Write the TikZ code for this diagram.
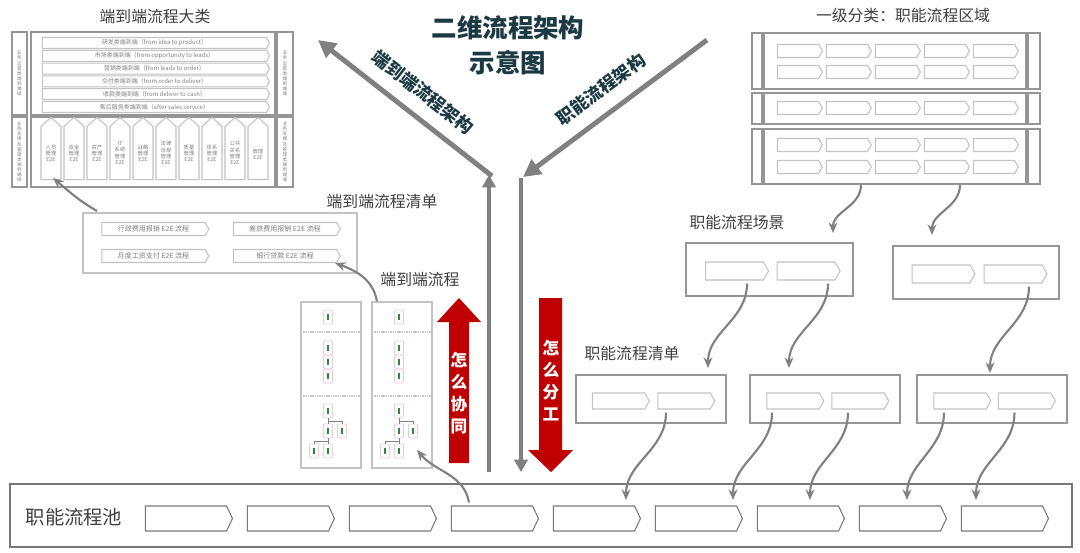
\documentclass[tikz,border=0pt]{standalone}
\usepackage{fontspec}
\setmainfont{Noto Sans CJK SC}
\usetikzlibrary{arrows.meta,shapes.symbols,positioning}
\definecolor{titleteal}{RGB}{28,58,68}
\definecolor{darkred}{RGB}{192,0,0}
\definecolor{txtgray}{RGB}{64,64,64}
\definecolor{boxgray}{RGB}{150,150,150}
\definecolor{chevgray}{RGB}{195,195,195}
\definecolor{poolgray}{RGB}{120,120,120}
\definecolor{arrowgray}{RGB}{128,128,128}
\definecolor{pinkline}{RGB}{240,200,212}
\definecolor{greenmark}{RGB}{40,140,60}

\begin{document}
\begin{tikzpicture}[x=0.02cm, y=-0.02cm,
    chev/.style={signal, signal to=east, signal pointer angle=120, draw=chevgray, line width=0.6pt, inner sep=0pt},
    house/.style={signal, signal to=north, signal pointer angle=96, draw=chevgray, line width=0.6pt, inner sep=0pt,
      minimum width=0.4cm, minimum height=1.16cm, align=center, text=gray, font=\fontsize{3}{3.5}\selectfont},
    boxframe/.style={draw=boxgray, line width=0.8pt, inner sep=0pt},
    sidetext/.style={align=center, text=gray, font=\fontsize{2.6}{2.9}\selectfont},
    lbltext/.style={text=txtgray, font=\fontsize{9}{10}\selectfont},
    wave/.style={draw=arrowgray, line width=1.2pt, -{Stealth[length=6pt,width=5pt]}},
    bigarrow/.style={draw=arrowgray, line width=2.8pt},
    mini/.style={draw=pinkline, line width=0.4pt, rounded corners=0.6pt, inner sep=0pt,
      minimum width=0.18cm, minimum height=0.28cm, text=greenmark, font=\fontsize{3}{3}\selectfont}]

  \fill[white] (0,0) rectangle (1080,552);
  \useasboundingbox (0,0) rectangle (1080,552);

  % title
  \node[align=center, text=titleteal, font=\fontsize{14.5}{20}\selectfont\bfseries] (title) at (508,45) {二维流程架构\\示意图};

  % end-to-end categories (top left)
  \node[lbltext] (e2ecat) at (155,17) {端到端流程大类};
  \begin{scope}[every node/.style={boxframe}]
    \node[minimum width=0.3cm, minimum height=1.66cm] (opL) at (19.5,73.5) {};
    \node[minimum width=4.88cm, minimum height=1.66cm] (opbox) at (153,73.5) {};
    \node[minimum width=0.32cm, minimum height=1.66cm] (opR) at (285,73.5) {};
    \node[minimum width=0.3cm, minimum height=1.4cm] (supL) at (19.5,152) {};
    \node[minimum width=4.88cm, minimum height=1.4cm] (supbox) at (153,152) {};
    \node[minimum width=0.32cm, minimum height=1.4cm] (supR) at (285,152) {};
  \end{scope}
  \foreach \side in {opL,opR}
    \node[sidetext] at (\side) {业\\务\\运\\营\\类\\端\\到\\端\\域};
  \foreach \side in {supL,supR}
    \node[sidetext] at (\side) {业\\务\\支\\撑\\及\\管\\理\\类\\端\\到\\端\\域};
  \foreach \txt [count=\i] in {研发类端到端（from idea to product）,市场类端到端（from opportunity to leads）,
      营销类端到端（from leads to order）,交付类端到端（from order to deliver）,
      收款类端到端（from deliver to cash）,售后服务类端到端（after sales service）}
    \node[chev, minimum width=4.54cm, minimum height=0.22cm, signal pointer angle=125,
      text=gray, font=\fontsize{3.4}{4}\selectfont] (row\i) at (154.5,{43+12.8*(\i-1)}) {\txt};
  \foreach \txt [count=\i] in {人员\\管理\\E2E,资金\\管理\\E2E,资产\\管理\\E2E,IT\\系统\\管理\\E2E,战略\\管理\\E2E,
      法律\\合规\\管理\\E2E,质量\\管理\\E2E,体系\\管理\\E2E,公共\\关系\\管理\\E2E,……\\管理\\E2E}
    \node[house] (e2e\i) at ({51+23*(\i-1)},153) {\txt};

  % end-to-end list
  \node[lbltext] (e2elistlbl) at (382,202) {端到端流程清单};
  \node[draw=chevgray, line width=0.8pt, minimum width=5.48cm, minimum height=1.2cm] (e2elist) at (220,243) {};
  \begin{scope}[every node/.style={chev, minimum width=2.14cm, minimum height=0.26cm, text=gray, font=\fontsize{4}{5}\selectfont}]
    \node (li1) at (153.5,229) {行政费用报销 E2E 流程};
    \node (li2) at (285,229) {差旅费用报销 E2E 流程};
    \node (li3) at (153.5,256) {月度工资支付 E2E 流程};
    \node (li4) at (285,256) {银行贷款 E2E 流程};
  \end{scope}

  % end-to-end flows
  \node[lbltext] (e2eflowlbl) at (420,280) {端到端流程};
  \node[draw=chevgray, line width=0.8pt, minimum width=1.2cm, minimum height=3.32cm] (col1) at (331,385) {};
  \node[draw=chevgray, line width=0.8pt, minimum width=1.2cm, minimum height=3.32cm] (col2) at (402,385) {};
  \foreach \cx/\cn in {0/a,71/b} {
    \draw[gray!45, line width=1.6pt, dash pattern=on 0.8pt off 0.5pt] ({301+\cx},332) -- ({361+\cx},332);
    \draw[gray!45, line width=1.6pt, dash pattern=on 0.8pt off 0.5pt] ({301+\cx},396) -- ({361+\cx},396);
    \begin{scope}[every node/.style={mini}]
      \node (s1\cn) at ({328+\cx},317) {\rule{0.8pt}{3pt}\hspace{1.5pt}};
      \node (s2\cn) at ({328+\cx},348) {\rule{0.8pt}{3pt}\hspace{1.5pt}};
      \node (s3\cn) at ({328+\cx},362) {\rule{0.8pt}{3pt}\hspace{1.5pt}};
      \node (s4\cn) at ({328+\cx},376) {\rule{0.8pt}{3pt}\hspace{1.5pt}};
      \node (tt\cn) at ({328+\cx},411) {\rule{0.8pt}{3pt}\hspace{1.5pt}};
      \node (tl\cn) at ({328+\cx},431) {\rule{0.8pt}{3pt}\hspace{1.5pt}};
      \node (tr\cn) at ({342+\cx},431) {\rule{0.8pt}{3pt}\hspace{1.5pt}};
      \node (bl\cn) at ({314+\cx},451) {\rule{0.8pt}{3pt}\hspace{1.5pt}};
      \node (br\cn) at ({328+\cx},451) {\rule{0.8pt}{3pt}\hspace{1.5pt}};
    \end{scope}
    \draw[gray, line width=0.4pt] (tt\cn.south) -- (tl\cn.north);
    \draw[gray, line width=0.4pt] (tt\cn.south) -- ++(0,3) -| (tr\cn.north);
    \draw[gray, line width=0.4pt] (tl\cn.south) -- (br\cn.north);
    \draw[gray, line width=0.4pt] (tl\cn.south) -- ++(0,3) -| (bl\cn.north);
  }

  % functional areas (top right)
  \node[lbltext] (fncat) at (903,15) {一级分类：职能流程区域};
  \begin{scope}[every node/.style={boxframe}]
    \node[minimum width=0.2cm, minimum height=1.12cm] (fa1L) at (757,61) {};
    \node[minimum width=5.24cm, minimum height=1.12cm] (fa1) at (895,61) {};
    \node[minimum width=0.24cm, minimum height=1.12cm] (fa1R) at (1034,61) {};
    \node[minimum width=0.2cm, minimum height=0.62cm] (fa2L) at (757,108.5) {};
    \node[minimum width=5.24cm, minimum height=0.62cm] (fa2) at (895,108.5) {};
    \node[minimum width=0.24cm, minimum height=0.62cm] (fa2R) at (1034,108.5) {};
    \node[minimum width=0.2cm, minimum height=1.1cm] (fa3L) at (757,156.5) {};
    \node[minimum width=5.24cm, minimum height=1.1cm] (fa3) at (895,156.5) {};
    \node[minimum width=0.24cm, minimum height=1.1cm] (fa3R) at (1034,156.5) {};
  \end{scope}
  \foreach \y in {51,72,108,145,167}
    \foreach \x [count=\j] in {798,847,896,945,994}
      \node[chev, minimum width=0.9cm, minimum height=0.26cm] (fa-\y-\j) at (\x,\y) {};

  % scenes
  \node[lbltext] (scenelbl) at (737,222) {职能流程场景};
  \node[boxframe, minimum width=3.34cm, minimum height=1.06cm] (sc1) at (769.5,269.5) {};
  \node[boxframe, minimum width=3.32cm, minimum height=1.06cm] (sc2) at (976,272.5) {};
  \begin{scope}[every node/.style={chev, minimum width=1.26cm, minimum height=0.36cm}]
    \node (sc1a) at (734.5,271) {};
    \node (sc1b) at (806,271) {};
    \node (sc2a) at (941,274) {};
    \node (sc2b) at (1013,274) {};
  \end{scope}

  % functional lists
  \node[lbltext] (fnlistlbl) at (632,353) {职能流程清单};
  \foreach \cx [count=\i] in {651,825,992}
    \node[boxframe, minimum width=3cm, minimum height=0.96cm] (fl\i) at (\cx,399) {};
  \begin{scope}[every node/.style={chev, minimum width=1.14cm, minimum height=0.32cm}]
    \node (fl1a) at (618.5,401) {};
    \node (fl1b) at (684,401) {};
    \node (fl2a) at (793,401) {};
    \node (fl2b) at (858,401) {};
    \node (fl3a) at (960,401) {};
    \node (fl3b) at (1024.5,401) {};
  \end{scope}

  % pool
  \node[draw=poolgray, line width=0.8pt, minimum width=21.24cm, minimum height=1.26cm] (pool) at (541,515.5) {};
  \node[lbltext, font=\fontsize{11}{12}\selectfont] (poollbl) at (74,517) {职能流程池};
  \foreach \i in {1,...,9}
    \node[chev, draw=poolgray, minimum width=1.74cm, minimum height=0.5cm, signal pointer angle=130] (pool\i) at ({186+102*(\i-1)},518.5) {};

  % big arrows
  \coordinate (e2eStart) at (492,176);
  \coordinate (e2eEnd) at (318,40);
  \coordinate (fnStart) at (707,40);
  \coordinate (fnEnd) at (523,177);
  \coordinate (upBase) at (489,472);
  \coordinate (upTip) at (489,175);
  \coordinate (dnTop) at (521,178);
  \coordinate (dnTip) at (521,472);
  \draw[bigarrow, -{Triangle[length=10pt,width=10pt]}] (e2eStart) -- (e2eEnd)
    node[pos=0.48, sloped, above=4pt, text=titleteal, font=\fontsize{10}{12}\selectfont\bfseries] {端到端流程架构};
  \draw[bigarrow, -{Triangle[length=10pt,width=10pt]}] (fnStart) -- (fnEnd)
    node[pos=0.5, sloped, above=4pt, text=titleteal, font=\fontsize{10}{12}\selectfont\bfseries] {职能流程架构};
  \draw[bigarrow, -{Triangle[length=7pt,width=7.5pt]}] (upBase) -- (upTip);
  \draw[bigarrow, -{Triangle[length=7pt,width=7.5pt]}] (dnTop) -- (dnTip);

  % red arrows
  \fill[darkred] (449,463) -- (449,322) -- (437,322) -- (459,298) -- (481,322) -- (469,322) -- (469,463) -- cycle;
  \fill[darkred] (539,298) -- (562,298) -- (562,450) -- (573,450) -- (551,472) -- (528,450) -- (539,450) -- cycle;
  \node[align=center, text=white, font=\fontsize{9.5}{12.5}\selectfont\bfseries] (cowork) at (459,393) {怎\\么\\协\\同};
  \node[align=center, text=white, font=\fontsize{9.5}{12.5}\selectfont\bfseries] (divide) at (551,381) {怎\\么\\分\\工};

  % curved links
  \coordinate (t1) at (833,233);
  \coordinate (t2) at (932,235);
  \coordinate (t3) at (708,368);
  \coordinate (t4) at (789,368);
  \coordinate (t5) at (990,373);
  \coordinate (t6) at (626,500);
  \coordinate (t7) at (733,500);
  \coordinate (t8) at (810,500);
  \coordinate (t9) at (907,500);
  \coordinate (t10) at (976,500);
  \coordinate (t11) at (417,450);
  \coordinate (t12) at (335,263);
  \coordinate (t13) at (53,178);
  \draw[wave] ([xshift=-0.68cm]fa3.south) to[out=-90,in=90] (t1);
  \draw[wave] ([xshift=1.3cm]fa3.south) to[out=-90,in=90] (t2);
  \draw[wave] ([xshift=0.25cm,yshift=-0.06cm]sc1a.south) to[out=-90,in=90] (t3);
  \draw[wave] ([xshift=0.44cm,yshift=-0.06cm]sc1b.south) to[out=-90,in=90] (t4);
  \draw[wave] ([xshift=0.32cm,yshift=-0.06cm]sc2b.south) to[out=-90,in=90] (t5);
  \draw[wave] ([xshift=-0.36cm,yshift=-0.06cm]fl1b.south) to[out=-90,in=90] (t6);
  \draw[wave] ([xshift=-0.42cm,yshift=-0.06cm]fl2a.south) to[out=-90,in=90] (t7);
  \draw[wave] ([xshift=-0.2cm,yshift=-0.06cm]fl2b.south) to[out=-90,in=90] (t8);
  \draw[wave] ([xshift=-0.32cm,yshift=-0.06cm]fl3a.south) to[out=-90,in=90] (t9);
  \draw[wave] ([xshift=-0.2cm,yshift=-0.06cm]fl3b.south) to[out=-90,in=90] (t10);
  \draw[wave] ([xshift=-0.46cm,yshift=0.06cm]pool4.north) to[out=100,in=-50] (t11);
  \draw[wave] ([xshift=-0.5cm]col2.north) to[out=100,in=-20] (t12);
  \draw[wave] (97,211) to[out=150,in=-40] (t13);
\end{tikzpicture}
\end{document}
